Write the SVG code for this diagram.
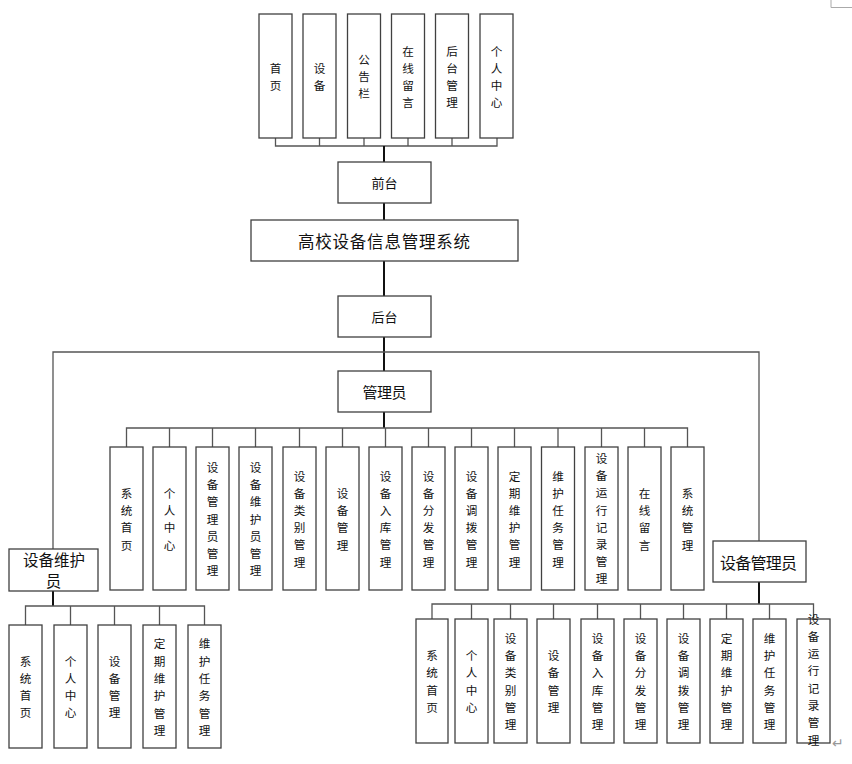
<svg xmlns="http://www.w3.org/2000/svg" width="852" height="764" viewBox="0 0 852 764">
<style>
.b{fill:#fff;stroke:#404040;stroke-width:1.3}
.v{font-family:"Noto Sans CJK SC","Noto Sans",sans-serif;font-size:11.6px;text-anchor:middle;dominant-baseline:central;fill:#111}
.h{font-family:"Noto Sans CJK SC","Noto Sans",sans-serif;text-anchor:middle;dominant-baseline:central;fill:#111}
.c{fill:none;stroke:#555;stroke-width:1.3}
.s{fill:none;stroke:#111;stroke-width:2}
</style>
<rect width="852" height="764" fill="#fff"/>
<g id="connectors">
<path class="c" d="M275.5 138V146H497V138M319.5 138V146M364 138V146M408 138V146M452 138V146"/>
<path class="s" d="M384 146V162M384 203V220M384 261V296M384 337V371M384 412V428"/>
<path class="c" d="M53 549V352H759V541"/>
<path class="c" d="M126.5 447V428H687.5V447M169.5 428V447M212.5 428V447M255.5 428V447M299.5 428V447M342.5 428V447M385.5 428V447M428.5 428V447M471.5 428V447M514.5 428V447M558 428V447M601.5 428V447M644.5 428V447"/>
<path class="s" d="M53 591V606M759 582V604"/>
<path class="c" d="M25.5 625V606H204.5V625M70.5 606V625M114.5 606V625M159.5 606V625"/>
<path class="c" d="M432 619V604H813.5V619M471.5 604V619M510.5 604V619M553.5 604V619M597.5 604V619M640.5 604V619M683.5 604V619M726.5 604V619M769.5 604V619"/>
</g>
<g id="marks" fill="none" stroke="#aaa" stroke-width="1">
<path d="M831 0V7.5H852"/>
</g>
<text x="838" y="742" class="h" font-size="14" style="fill:#999">↵</text>

<g id="top-nodes">
<g id="n-shouye"><rect class="b" x="259" y="14" width="33" height="124"/><text class="v"><tspan x="275.5" y="67.5">首</tspan><tspan x="275.5" dy="17">页</tspan></text></g>
<g id="n-shebei"><rect class="b" x="303" y="14" width="33" height="124"/><text class="v"><tspan x="319.5" y="67.5">设</tspan><tspan x="319.5" dy="17">备</tspan></text></g>
<g id="n-gonggao"><rect class="b" x="347.5" y="14" width="33" height="124"/><text class="v"><tspan x="364" y="59">公</tspan><tspan x="364" dy="17">告</tspan><tspan x="364" dy="17">栏</tspan></text></g>
<g id="n-liuyan"><rect class="b" x="391.5" y="14" width="33" height="124"/><text class="v"><tspan x="408" y="50.5">在</tspan><tspan x="408" dy="17">线</tspan><tspan x="408" dy="17">留</tspan><tspan x="408" dy="17">言</tspan></text></g>
<g id="n-houtaiguanli"><rect class="b" x="435.5" y="14" width="33" height="124"/><text class="v"><tspan x="452" y="50.5">后</tspan><tspan x="452" dy="17">台</tspan><tspan x="452" dy="17">管</tspan><tspan x="452" dy="17">理</tspan></text></g>
<g id="n-geren"><rect class="b" x="480" y="14" width="33" height="124"/><text class="v"><tspan x="496.5" y="50.5">个</tspan><tspan x="496.5" dy="17">人</tspan><tspan x="496.5" dy="17">中</tspan><tspan x="496.5" dy="17">心</tspan></text></g>
</g>

<g id="qiantai"><rect class="b" x="338" y="162" width="93" height="41"/><text class="h" x="384.5" y="182.5" font-size="13">前台</text></g>
<g id="system"><rect class="b" x="251" y="220" width="267" height="41"/><text class="h" x="384" y="240.5" font-size="16.5" textLength="172" lengthAdjust="spacing">高校设备信息管理系统</text></g>
<g id="houtai"><rect class="b" x="338" y="296" width="93" height="41"/><text class="h" x="384.5" y="316.5" font-size="13">后台</text></g>
<g id="admin"><rect class="b" x="338" y="371" width="93" height="41"/><text class="h" x="384.5" y="391.5" font-size="15" textLength="44" lengthAdjust="spacing">管理员</text></g>
<g id="maint"><rect class="b" x="9" y="549" width="89" height="42"/><text class="h" font-size="15.5"><tspan x="54" y="559" textLength="62" lengthAdjust="spacing">设备维护</tspan><tspan x="53.5" y="580">员</tspan></text></g>
<g id="manager"><rect class="b" x="713" y="541" width="93" height="41"/><text class="h" x="758.5" y="561.5" font-size="16" textLength="77" lengthAdjust="spacing">设备管理员</text></g>

<g id="admin-children">
<g id="a1"><rect class="b" x="110" y="447" width="33" height="143"/><text class="v"><tspan x="126.5" y="493">系</tspan><tspan x="126.5" dy="17.2">统</tspan><tspan x="126.5" dy="17.2">首</tspan><tspan x="126.5" dy="17.2">页</tspan></text></g>
<g id="a2"><rect class="b" x="153" y="447" width="33" height="143"/><text class="v"><tspan x="169.5" y="493">个</tspan><tspan x="169.5" dy="17.2">人</tspan><tspan x="169.5" dy="17.2">中</tspan><tspan x="169.5" dy="17.2">心</tspan></text></g>
<g id="a3"><rect class="b" x="196" y="447" width="33" height="143"/><text class="v"><tspan x="212.5" y="467">设</tspan><tspan x="212.5" dy="17.2">备</tspan><tspan x="212.5" dy="17.2">管</tspan><tspan x="212.5" dy="17.2">理</tspan><tspan x="212.5" dy="17.2">员</tspan><tspan x="212.5" dy="17.2">管</tspan><tspan x="212.5" dy="17.2">理</tspan></text></g>
<g id="a4"><rect class="b" x="239" y="447" width="33" height="143"/><text class="v"><tspan x="255.5" y="467">设</tspan><tspan x="255.5" dy="17.2">备</tspan><tspan x="255.5" dy="17.2">维</tspan><tspan x="255.5" dy="17.2">护</tspan><tspan x="255.5" dy="17.2">员</tspan><tspan x="255.5" dy="17.2">管</tspan><tspan x="255.5" dy="17.2">理</tspan></text></g>
<g id="a5"><rect class="b" x="283" y="447" width="33" height="143"/><text class="v"><tspan x="299.5" y="475.5">设</tspan><tspan x="299.5" dy="17.2">备</tspan><tspan x="299.5" dy="17.2">类</tspan><tspan x="299.5" dy="17.2">别</tspan><tspan x="299.5" dy="17.2">管</tspan><tspan x="299.5" dy="17.2">理</tspan></text></g>
<g id="a6"><rect class="b" x="326" y="447" width="33" height="143"/><text class="v"><tspan x="342.5" y="493">设</tspan><tspan x="342.5" dy="17.2">备</tspan><tspan x="342.5" dy="17.2">管</tspan><tspan x="342.5" dy="17.2">理</tspan></text></g>
<g id="a7"><rect class="b" x="369" y="447" width="33" height="143"/><text class="v"><tspan x="385.5" y="475.5">设</tspan><tspan x="385.5" dy="17.2">备</tspan><tspan x="385.5" dy="17.2">入</tspan><tspan x="385.5" dy="17.2">库</tspan><tspan x="385.5" dy="17.2">管</tspan><tspan x="385.5" dy="17.2">理</tspan></text></g>
<g id="a8"><rect class="b" x="412" y="447" width="33" height="143"/><text class="v"><tspan x="428.5" y="475.5">设</tspan><tspan x="428.5" dy="17.2">备</tspan><tspan x="428.5" dy="17.2">分</tspan><tspan x="428.5" dy="17.2">发</tspan><tspan x="428.5" dy="17.2">管</tspan><tspan x="428.5" dy="17.2">理</tspan></text></g>
<g id="a9"><rect class="b" x="455" y="447" width="33" height="143"/><text class="v"><tspan x="471.5" y="475.5">设</tspan><tspan x="471.5" dy="17.2">备</tspan><tspan x="471.5" dy="17.2">调</tspan><tspan x="471.5" dy="17.2">拨</tspan><tspan x="471.5" dy="17.2">管</tspan><tspan x="471.5" dy="17.2">理</tspan></text></g>
<g id="a10"><rect class="b" x="498" y="447" width="33" height="143"/><text class="v"><tspan x="514.5" y="475.5">定</tspan><tspan x="514.5" dy="17.2">期</tspan><tspan x="514.5" dy="17.2">维</tspan><tspan x="514.5" dy="17.2">护</tspan><tspan x="514.5" dy="17.2">管</tspan><tspan x="514.5" dy="17.2">理</tspan></text></g>
<g id="a11"><rect class="b" x="541.5" y="447" width="33" height="143"/><text class="v"><tspan x="558" y="475.5">维</tspan><tspan x="558" dy="17.2">护</tspan><tspan x="558" dy="17.2">任</tspan><tspan x="558" dy="17.2">务</tspan><tspan x="558" dy="17.2">管</tspan><tspan x="558" dy="17.2">理</tspan></text></g>
<g id="a12"><rect class="b" x="585" y="447" width="33" height="143"/><text class="v"><tspan x="601.5" y="458">设</tspan><tspan x="601.5" dy="17.2">备</tspan><tspan x="601.5" dy="17.2">运</tspan><tspan x="601.5" dy="17.2">行</tspan><tspan x="601.5" dy="17.2">记</tspan><tspan x="601.5" dy="17.2">录</tspan><tspan x="601.5" dy="17.2">管</tspan><tspan x="601.5" dy="17.2">理</tspan></text></g>
<g id="a13"><rect class="b" x="628" y="447" width="33" height="143"/><text class="v"><tspan x="644.5" y="493">在</tspan><tspan x="644.5" dy="17.2">线</tspan><tspan x="644.5" dy="17.2">留</tspan><tspan x="644.5" dy="17.2">言</tspan></text></g>
<g id="a14"><rect class="b" x="671" y="447" width="33" height="143"/><text class="v"><tspan x="687.5" y="493">系</tspan><tspan x="687.5" dy="17.2">统</tspan><tspan x="687.5" dy="17.2">管</tspan><tspan x="687.5" dy="17.2">理</tspan></text></g>
</g>

<g id="maint-children">
<g id="m1"><rect class="b" x="9" y="625" width="33" height="123"/><text class="v"><tspan x="25.5" y="660.5">系</tspan><tspan x="25.5" dy="17.3">统</tspan><tspan x="25.5" dy="17.3">首</tspan><tspan x="25.5" dy="17.3">页</tspan></text></g>
<g id="m2"><rect class="b" x="54" y="625" width="33" height="123"/><text class="v"><tspan x="70.5" y="660.5">个</tspan><tspan x="70.5" dy="17.3">人</tspan><tspan x="70.5" dy="17.3">中</tspan><tspan x="70.5" dy="17.3">心</tspan></text></g>
<g id="m3"><rect class="b" x="98" y="625" width="33" height="123"/><text class="v"><tspan x="114.5" y="660.5">设</tspan><tspan x="114.5" dy="17.3">备</tspan><tspan x="114.5" dy="17.3">管</tspan><tspan x="114.5" dy="17.3">理</tspan></text></g>
<g id="m4"><rect class="b" x="143" y="625" width="33" height="123"/><text class="v"><tspan x="159.5" y="643.3">定</tspan><tspan x="159.5" dy="17.3">期</tspan><tspan x="159.5" dy="17.3">维</tspan><tspan x="159.5" dy="17.3">护</tspan><tspan x="159.5" dy="17.3">管</tspan><tspan x="159.5" dy="17.3">理</tspan></text></g>
<g id="m5"><rect class="b" x="188" y="625" width="33" height="123"/><text class="v"><tspan x="204.5" y="643.3">维</tspan><tspan x="204.5" dy="17.3">护</tspan><tspan x="204.5" dy="17.3">任</tspan><tspan x="204.5" dy="17.3">务</tspan><tspan x="204.5" dy="17.3">管</tspan><tspan x="204.5" dy="17.3">理</tspan></text></g>
</g>

<g id="manager-children">
<g id="r1"><rect class="b" x="416" y="619" width="32" height="124"/><text class="v"><tspan x="432" y="655">系</tspan><tspan x="432" dy="17.3">统</tspan><tspan x="432" dy="17.3">首</tspan><tspan x="432" dy="17.3">页</tspan></text></g>
<g id="r2"><rect class="b" x="455" y="619" width="33" height="124"/><text class="v"><tspan x="471.5" y="655">个</tspan><tspan x="471.5" dy="17.3">人</tspan><tspan x="471.5" dy="17.3">中</tspan><tspan x="471.5" dy="17.3">心</tspan></text></g>
<g id="r3"><rect class="b" x="494" y="619" width="33" height="124"/><text class="v"><tspan x="510.5" y="637.7">设</tspan><tspan x="510.5" dy="17.3">备</tspan><tspan x="510.5" dy="17.3">类</tspan><tspan x="510.5" dy="17.3">别</tspan><tspan x="510.5" dy="17.3">管</tspan><tspan x="510.5" dy="17.3">理</tspan></text></g>
<g id="r4"><rect class="b" x="537" y="619" width="33" height="124"/><text class="v"><tspan x="553.5" y="655">设</tspan><tspan x="553.5" dy="17.3">备</tspan><tspan x="553.5" dy="17.3">管</tspan><tspan x="553.5" dy="17.3">理</tspan></text></g>
<g id="r5"><rect class="b" x="581" y="619" width="33" height="124"/><text class="v"><tspan x="597.5" y="637.7">设</tspan><tspan x="597.5" dy="17.3">备</tspan><tspan x="597.5" dy="17.3">入</tspan><tspan x="597.5" dy="17.3">库</tspan><tspan x="597.5" dy="17.3">管</tspan><tspan x="597.5" dy="17.3">理</tspan></text></g>
<g id="r6"><rect class="b" x="624" y="619" width="33" height="124"/><text class="v"><tspan x="640.5" y="637.7">设</tspan><tspan x="640.5" dy="17.3">备</tspan><tspan x="640.5" dy="17.3">分</tspan><tspan x="640.5" dy="17.3">发</tspan><tspan x="640.5" dy="17.3">管</tspan><tspan x="640.5" dy="17.3">理</tspan></text></g>
<g id="r7"><rect class="b" x="667" y="619" width="33" height="124"/><text class="v"><tspan x="683.5" y="637.7">设</tspan><tspan x="683.5" dy="17.3">备</tspan><tspan x="683.5" dy="17.3">调</tspan><tspan x="683.5" dy="17.3">拨</tspan><tspan x="683.5" dy="17.3">管</tspan><tspan x="683.5" dy="17.3">理</tspan></text></g>
<g id="r8"><rect class="b" x="710" y="619" width="33" height="124"/><text class="v"><tspan x="726.5" y="637.7">定</tspan><tspan x="726.5" dy="17.3">期</tspan><tspan x="726.5" dy="17.3">维</tspan><tspan x="726.5" dy="17.3">护</tspan><tspan x="726.5" dy="17.3">管</tspan><tspan x="726.5" dy="17.3">理</tspan></text></g>
<g id="r9"><rect class="b" x="753" y="619" width="33" height="124"/><text class="v"><tspan x="769.5" y="637.7">维</tspan><tspan x="769.5" dy="17.3">护</tspan><tspan x="769.5" dy="17.3">任</tspan><tspan x="769.5" dy="17.3">务</tspan><tspan x="769.5" dy="17.3">管</tspan><tspan x="769.5" dy="17.3">理</tspan></text></g>
<g id="r10"><rect class="b" x="797" y="619" width="33" height="124"/><text class="v"><tspan x="813.5" y="618.5">设</tspan><tspan x="813.5" dy="17.3">备</tspan><tspan x="813.5" dy="17.3">运</tspan><tspan x="813.5" dy="17.3">行</tspan><tspan x="813.5" dy="17.3">记</tspan><tspan x="813.5" dy="17.3">录</tspan><tspan x="813.5" dy="17.3">管</tspan><tspan x="813.5" dy="17.3">理</tspan></text></g>
</g>
</svg>
